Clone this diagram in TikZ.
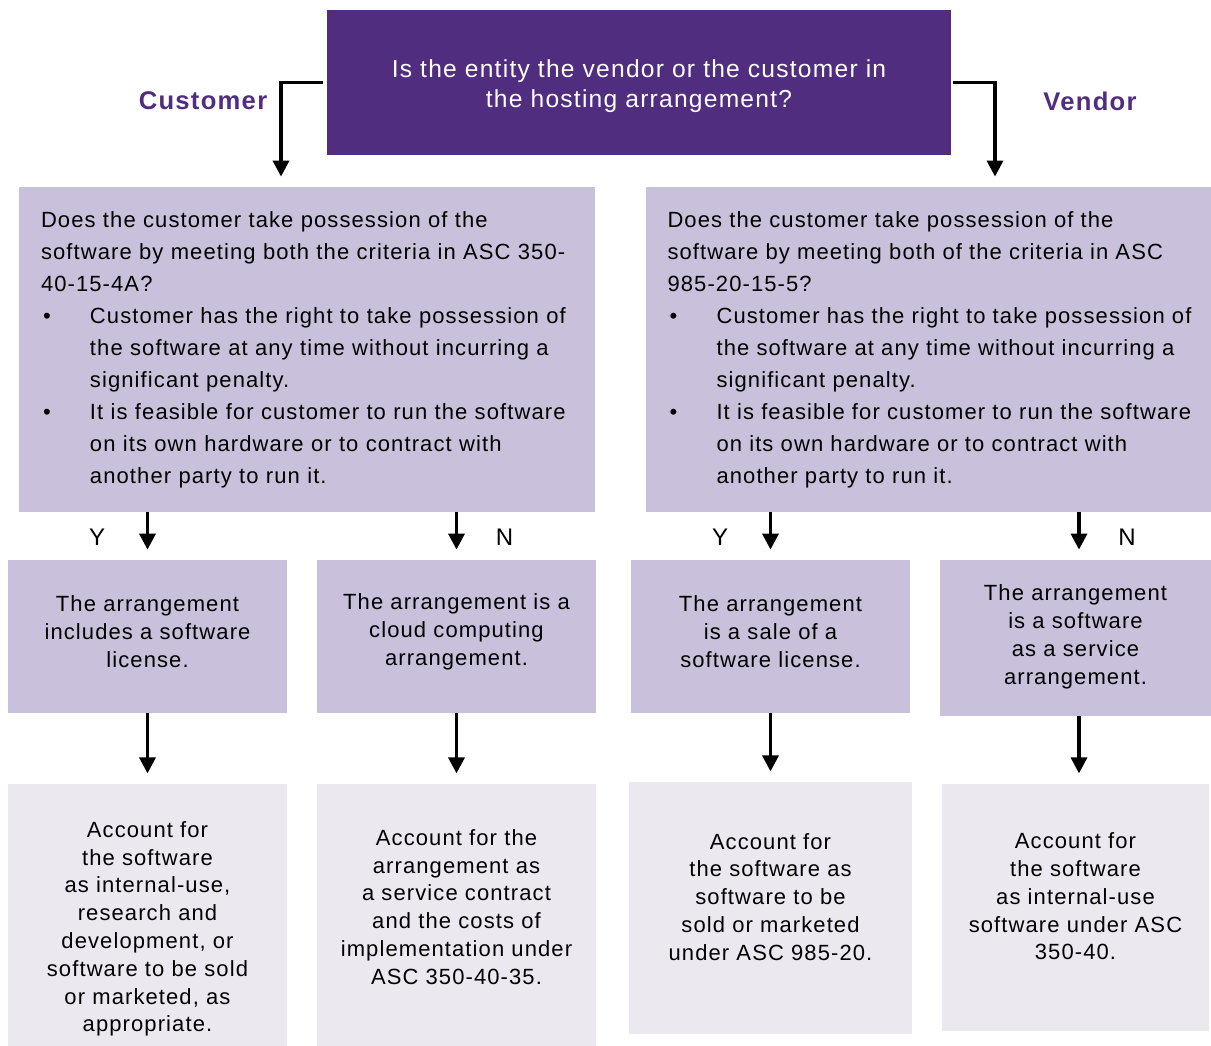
\documentclass[tikz,border=0pt]{standalone}
\usepackage{fontspec}
\setmainfont{Liberation Sans}[LetterSpace=5]
\usepackage{tikz}
\usetikzlibrary{positioning, arrows.meta}
\definecolor{hostpurple}{RGB}{81,45,127}
\definecolor{hostlilac}{RGB}{201,192,219}
\definecolor{hostgrey}{RGB}{235,232,240}
\tikzset{>={Triangle[length=8pt, width=8pt]}}
\tikzset{question/.style={fill=hostpurple, text=white, align=center, inner sep=0pt,
    font=\fontsize{12.3}{15}\selectfont}}
\tikzset{criteria box/.style={fill=hostlilac, align=left, inner ysep=0pt,
    minimum height=162.5pt, font=\fontsize{11}{16}\selectfont}}
\tikzset{outcome/.style={fill=hostlilac, align=center, inner sep=0pt,
    font=\fontsize{11}{14}\selectfont}}
\tikzset{treatment/.style={fill=hostgrey, align=center, inner sep=0pt,
    font=\fontsize{11}{13.9}\selectfont}}
\tikzset{flow/.style={->, line width=1.7pt, shorten >=5pt}}
\tikzset{side label/.style={text=hostpurple, font=\bfseries\fontsize{12.8}{16}\selectfont}}
\tikzset{answer/.style={font=\fontsize{12}{14}\selectfont}}
\newcommand{\critbullet}{\makebox[24.5pt][l]{\hspace{1pt}\textbullet}}
\newcommand{\critindent}{\hspace*{24.5pt}}
% struts that move a box's text up or down
\newcommand{\textdrop}[1]{\rule{0pt}{#1}}
\newcommand{\textlift}[1]{\rule[-#1]{0pt}{0pt}}

\begin{document}
\begin{tikzpicture}[x=0.5pt, y=-0.5pt]
    \useasboundingbox (0,0) rectangle (1211,1045);

    \node[question, minimum width=312pt, minimum height=72.5pt] (question) at (639,82.5)
    {\textdrop{13pt}Is the entity the vendor or the customer in\\the hosting arrangement?};

    \coordinate (cust-turn) at (281,0);
    \coordinate (vend-turn) at (995,0);
    \coordinate (vend-no-lane) at (1079,0);
    \node[side label] (customer) at (203,101) {Customer};
    \node[side label] (vendor) at (1090,101) {Vendor};

    \node[criteria box, text width=266pt, inner xsep=11pt] (crit-cust) at (307,349.5)
    {Does the customer take possession of the\\
     software by meeting both the criteria in ASC 350-\\
     40-15-4A?\\
     \critbullet Customer has the right to take possession of\\
     \critindent the software at any time without incurring a\\
     \critindent significant penalty.\\
     \critbullet It is feasible for customer to run the software\\
     \critindent on its own hardware or to contract with\\
     \critindent another party to run it.};

    \node[criteria box, minimum width=283.5pt, xshift=1.5pt] (crit-vend) at (926.5,349.5)
    {Does the customer take possession of the\\
     software by meeting both of the criteria in ASC\\
     985-20-15-5?\\
     \critbullet Customer has the right to take possession of\\
     \critindent the software at any time without incurring a\\
     \critindent significant penalty.\\
     \critbullet It is feasible for customer to run the software\\
     \critindent on its own hardware or to contract with\\
     \critindent another party to run it.};

    \node[outcome, minimum width=139.5pt, minimum height=76.5pt] (cust-yes) at (147.5,636.5)
    {The arrangement\\includes a software\\license.\textlift{5pt}};
    \node[outcome, minimum width=139.5pt, minimum height=76.5pt] (cust-no) at (456.5,636.5)
    {The arrangement is a\\cloud computing\\arrangement.\textlift{7.3pt}};
    \node[outcome, minimum width=139.5pt, minimum height=76.5pt] (vend-yes) at (770.5,636.5)
    {The arrangement\\is a sale of a\\software license.\textlift{5pt}};
    \node[outcome, minimum width=135.5pt, minimum height=78pt] (vend-no) at (1075.5,638)
    {The arrangement\\is a software\\as a service\\arrangement.\textlift{3.6pt}};

    \node[treatment, minimum width=139.5pt, minimum height=131pt, below=35pt of cust-yes]
    (acct-cust-yes) {\textdrop{22pt}Account for\\the software\\as internal-use,\\research and\\development, or\\software to be sold\\or marketed, as\\appropriate.};
    \node[treatment, minimum width=139.5pt, minimum height=131pt, below=35pt of cust-no]
    (acct-cust-no) {Account for the\\arrangement as\\a service contract\\and the costs of\\implementation under\\ASC 350-40-35.\textlift{8pt}};
    \node[treatment, minimum width=141.5pt, minimum height=126pt, below=34pt of vend-yes]
    (acct-vend-yes) {Account for\\the software as\\software to be\\sold or marketed\\under ASC 985-20.\textlift{11pt}};
    \node[treatment, minimum width=133.5pt, minimum height=123.5pt, below=33.5pt of vend-no]
    (acct-vend-no) {Account for\\the software\\as internal-use\\software under ASC\\350-40.\textlift{11pt}};

    % customer / vendor branches
    \draw[flow] ([xshift=-2pt]question.west) -| (crit-cust.north -| cust-turn);
    \draw[flow] ([xshift=1pt]question.east) -| (crit-vend.north -| vend-turn);

    \draw[flow] (crit-cust.south -| cust-yes.north) -- (cust-yes.north)
        node[answer, pos=0.52, left=17pt] {Y};
    \draw[flow] (crit-cust.south -| cust-no.north) -- (cust-no.north)
        node[answer, pos=0.52, right=15.5pt] {N};
    \draw[flow] (crit-vend.south -| vend-yes.north) -- (vend-yes.north)
        node[answer, pos=0.52, left=17pt] {Y};
    \draw[flow] (crit-vend.south -| vend-no-lane) -- (vend-no.north -| vend-no-lane)
        node[answer, pos=0.52, right=15.5pt] {N};

    \draw[flow] (cust-yes) -- (acct-cust-yes);
    \draw[flow] (cust-no) -- (acct-cust-no);
    \draw[flow] (vend-yes) -- (acct-vend-yes);
    \draw[flow] (vend-no.south -| vend-no-lane) -- (acct-vend-no.north -| vend-no-lane);
\end{tikzpicture}
\end{document}
